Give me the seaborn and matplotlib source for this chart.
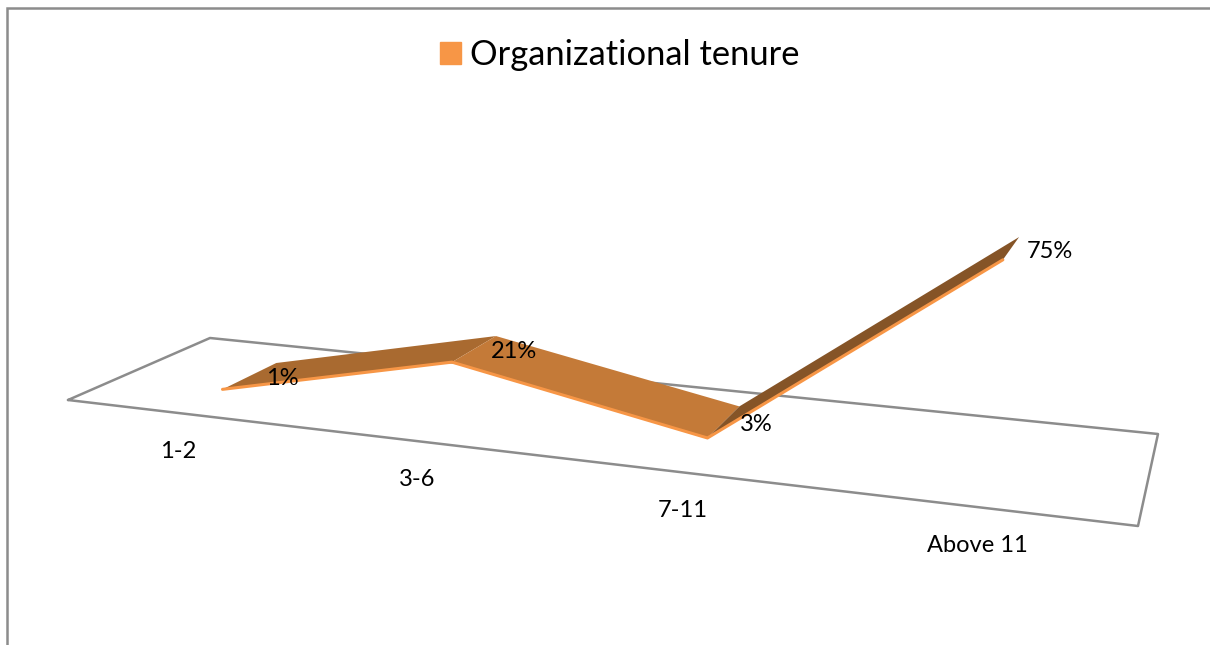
import numpy as np
import pandas as pd
import matplotlib
matplotlib.use("Agg")
import matplotlib.pyplot as plt
from matplotlib.patches import Patch
import seaborn as sns

categories = ["1-2", "3-6", "7-11", "Above 11"]
values = [1, 21, 3, 75]
value_labels = ["1%", "21%", "3%", "75%"]
series_name = "Organizational tenure"

ORANGE = "#F79646"
GREY = "#8C8C8C"
face_colors = ["#A96A30", "#C47A38", "#855427"]

# floor corners in pixels: front-left, back-left, back-right, front-right
floor = [(68, 400), (210, 338), (1158, 434), (1138, 526)]
unit = [(0, 0), (0, 1), (1, 1), (1, 0)]
D_FRONT, D_BACK = 0.30, 0.71
HEIGHT = 2.55
TILT = 0.13


def fit_floor():
    rows, rhs = [], []
    for (u, d), (x, y) in zip(unit, floor):
        rows.append([u, d, 1, 0, 0, 0, -u * x, -d * x])
        rows.append([0, 0, 0, u, d, 1, -u * y, -d * y])
        rhs += [x, y]
    return np.append(np.linalg.solve(rows, rhs), 1).reshape(3, 3)


H = fit_floor()


def project(u, d, z=0.0):
    x, y, w = H @ np.array([u, d, 1.0])
    return (x + TILT * z) / w, (y - HEIGHT * z) / w


sns.set_theme(style="white")
plt.rcParams["font.family"] = ["Lato", "DejaVu Sans"]

fig = plt.figure(figsize=(12.1, 6.45), dpi=100)
ax = fig.add_axes([0, 0, 1, 1])
ax.axis("off")

# outer chart frame, runs off the crop on the right and bottom
ax.plot([7, 7, 1210], [645, 8, 8], color=GREY, lw=1.8, solid_joinstyle="miter")

# floor outline
xs, ys = zip(*(project(u, d) for u, d in unit + unit[:1]))
ax.plot(xs, ys, color=GREY, lw=1.8, zorder=1)

# slots along the floor; the ribbon sits a touch off centre in the middle
slots = [(i + 0.5) / len(categories) for i in range(len(categories))]
positions = [0.125, 0.37, 0.623, 0.875]
front = [project(u, D_FRONT, v) for u, v in zip(positions, values)]
back = [project(u, D_BACK, v) for u, v in zip(positions, values)]

for i, color in enumerate(face_colors):
    quad = [front[i], front[i + 1], back[i + 1], back[i]]
    ax.fill(*zip(*quad), color=color, lw=0, zorder=2)

front_df = pd.DataFrame(front, columns=["px", "py"])
sns.lineplot(data=front_df, x="px", y="py", sort=False, color=ORANGE, lw=2.2,
             ax=ax, zorder=3)
ax.set_xlim(0, 1210)
ax.set_ylim(645, 0)

for u, v, label in zip(positions, values, value_labels):
    x, y = project(u, (D_FRONT + D_BACK) / 2, v)
    ax.text(x + 16, y + 3, label, fontsize=17, color="black", ha="left", va="center", zorder=4)

for u, name in zip(slots, categories):
    x, y = project(u, 0)
    ax.text(x - 1, y + 38, name, fontsize=17, color="black", ha="center", va="center")

leg = ax.legend(handles=[Patch(color=ORANGE, label=series_name)], loc="center",
                bbox_to_anchor=(620 / 1210, 1 - 55 / 645), frameon=False, fontsize=24.8,
                labelcolor="black", handlelength=0.62, handleheight=0.62, handletextpad=0.26)

fig.savefig("out.png", dpi=100)
